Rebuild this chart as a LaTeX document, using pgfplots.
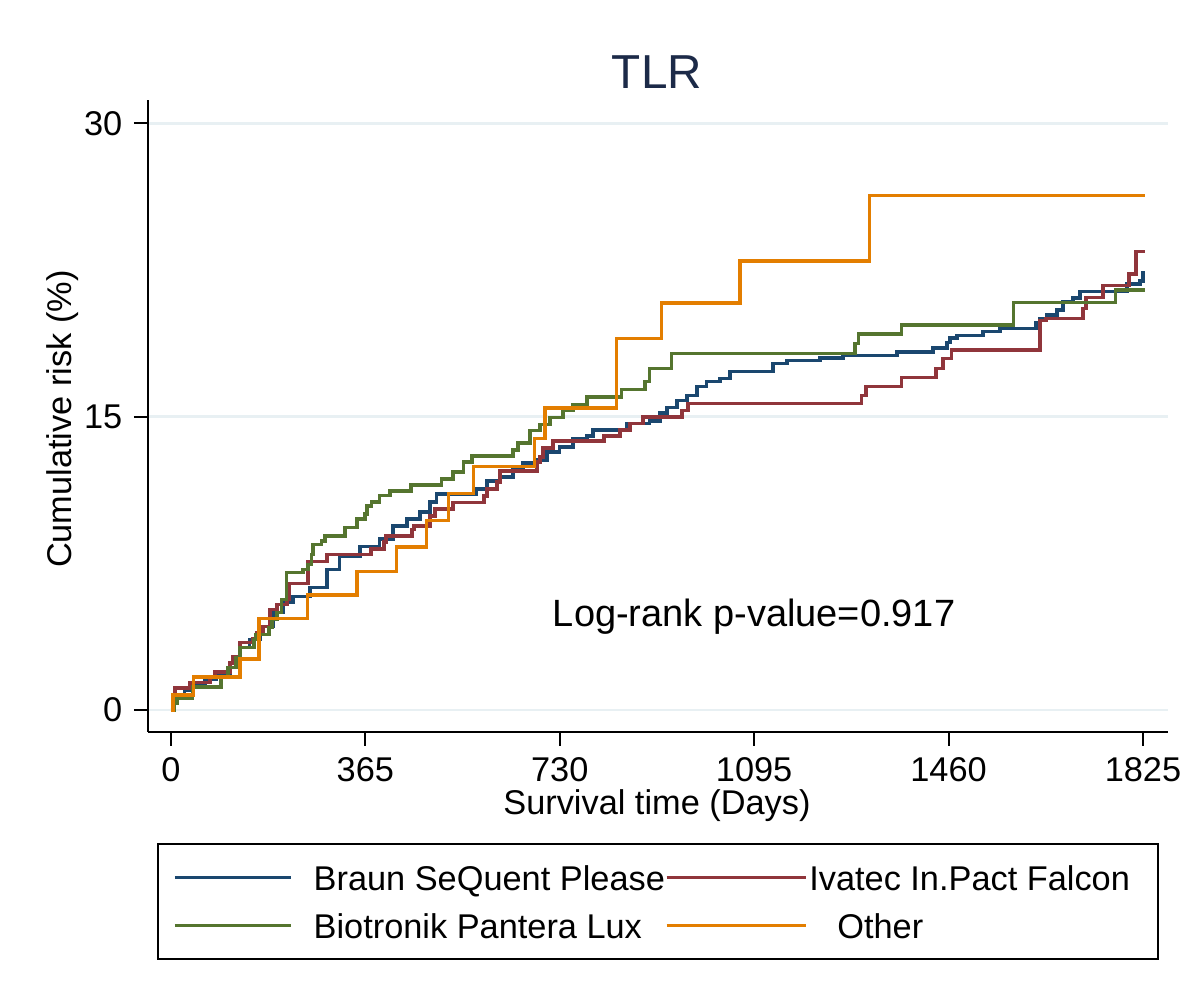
\documentclass[border=0pt]{standalone}
\usepackage{pgfplots}
\usepackage{pgfplotstable}
\pgfplotsset{compat=1.18}
\usepackage{fontspec}
\setmainfont{Liberation Sans}
\definecolor{cblue}{RGB}{26,71,111}
\definecolor{cred}{RGB}{144,53,59}
\definecolor{cgreen}{RGB}{85,117,47}
\definecolor{corange}{RGB}{227,126,0}
\definecolor{cgrid}{RGB}{232,240,243}
\definecolor{ctitle}{RGB}{28,42,72}

\pgfplotstableread{
x y
0 0
4 0.36
11 0.77
26 1.03
41 1.28
64 1.59
86 1.90
111 2.41
130 3.18
148 3.60
167 4.26
192 4.98
210 5.50
229 5.80
261 6.27
293 7.19
317 7.86
355 8.37
392 8.73
417 9.40
443 9.76
468 10.12
486 10.63
499 11.04
573 11.30
593 11.71
618 11.92
642 12.33
661 12.63
687 12.79
706 13.20
730 13.46
755 13.87
781 14.02
792 14.33
856 14.64
899 14.79
918 15.20
931 15.46
950 15.82
969 16.08
988 16.54
1006 16.80
1031 16.95
1050 17.31
1130 17.72
1157 17.87
1219 18.00
1262 18.13
1363 18.31
1431 18.52
1457 18.80
1463 19.03
1476 19.16
1525 19.35
1557 19.52
1624 19.82
1632 20.03
1645 20.20
1664 20.46
1675 20.89
1694 21.06
1707 21.40
1795 21.78
1819 21.93
1825 22.34
1829 22.34
}\braun

\pgfplotstableread{
x y
0 0
4 0.51
8 1.13
36 1.39
73 1.69
83 1.95
111 2.41
116 2.72
130 3.44
154 3.65
162 3.96
173 4.26
186 5.14
199 5.39
218 5.65
223 6.47
257 7.60
293 7.96
376 8.22
400 8.58
404 8.89
453 9.24
456 9.40
486 9.93
496 10.27
530 10.62
588 10.94
593 11.30
612 11.66
618 12.22
687 12.67
693 12.93
699 13.41
717 13.76
813 14.02
843 14.33
862 14.64
886 14.98
960 15.32
971 15.67
1297 16.08
1305 16.54
1372 17.00
1436 17.46
1450 17.98
1466 18.40
1632 19.93
1643 20.03
1712 20.54
1718 21.10
1750 21.70
1799 22.29
1812 23.46
1829 23.46
}\ivatec

\pgfplotstableread{
x y
0 0
6 0.36
11 0.62
41 1.18
94 1.69
107 2.16
122 2.67
130 3.18
156 3.60
160 3.85
184 4.21
190 4.62
199 4.98
208 5.65
217 7.02
248 7.19
257 7.45
264 7.96
267 8.47
283 8.63
289 8.90
327 9.33
349 9.76
364 10.02
368 10.44
377 10.63
392 10.96
411 11.21
451 11.50
508 11.81
530 12.16
549 12.69
565 12.98
642 13.30
652 13.66
674 14.28
693 14.59
712 14.95
736 15.31
755 15.59
781 16.01
846 16.38
890 16.80
899 17.46
940 18.23
1284 18.75
1291 19.22
1372 19.70
1582 20.85
1773 21.48
1829 21.48
}\biotronik

\pgfplotstableread{
x y
0 0
4 0.77
42 1.68
130 2.60
165 4.67
256 5.87
349 7.07
424 8.34
480 9.68
521 11.07
568 12.46
683 13.89
702 15.44
837 19.00
921 20.82
1068 22.96
1312 26.32
1829 26.32
}\other

\begin{document}
\begin{tikzpicture}
\begin{axis}[
  at={(0,0)}, anchor=south west,
  scale only axis, width=306pt, height=189.6pt,
  xmin=-43, xmax=1872, ymin=-1.13, ymax=31.2,
  axis x line*=bottom, axis y line*=left,
  axis line style={-, line width=0.6pt, black},
  xtick={0,365,730,1095,1460,1825}, ytick={0,15,30},
  tick align=outside, major tick length=4.2pt,
  tick style={line width=0.6pt, black},
  ymajorgrids, grid style={cgrid, line width=0.8pt},
  ticklabel style={font=\fontsize{10.3}{12}\selectfont},
  /pgf/number format/assume math mode=true,
  /pgf/number format/1000 sep={},
  xlabel={Survival time (Days)}, ylabel={Cumulative risk (\%)},
  label style={font=\fontsize{10.3}{12}\selectfont},
  xlabel style={at={(axis description cs:0.499,-0.117)}, anchor=center},
  ylabel style={at={(axis description cs:-0.084,0.495)}, anchor=center},
  title={TLR},
  every axis title shift=0pt,
  title style={at={(axis description cs:0.499,1.044)}, anchor=center, font=\fontsize{14.3}{16}\selectfont, text=ctitle},
  legend columns=2,
  legend cell align=left,
  legend style={at={(axis description cs:0.0088,-0.1756)}, anchor=north west,
    draw=black, line width=0.6pt, font=\fontsize{10.3}{12}\selectfont,
    inner xsep=4.6pt, inner ysep=2.85pt,
    nodes={inner xsep=0pt, inner ysep=2.2pt, text height=9pt, text depth=1pt}},
]
\addplot[const plot, cblue, line width=1.05pt,
  legend image code/.code={\draw[cblue, line width=1pt] (0pt,0pt) -- (34.8pt,0pt); \path (41.1pt,0pt);}] table[x=x,y=y] {\braun};
\addlegendentry{Braun SeQuent Please}
\addplot[const plot, cred, line width=1.05pt,
  legend image code/.code={\draw[cred, line width=1pt] (0pt,0pt) -- (41.7pt,0pt); \path (42.3pt,0pt);}] table[x=x,y=y] {\ivatec};
\addlegendentry{Ivatec In.Pact Falcon\kern3.8pt}
\addplot[const plot, cgreen, line width=1.05pt,
  legend image code/.code={\draw[cgreen, line width=1pt] (0pt,0pt) -- (34.8pt,0pt); \path (41.1pt,0pt);}] table[x=x,y=y] {\biotronik};
\addlegendentry{Biotronik Pantera Lux}
\addplot[const plot, corange, line width=1.05pt,
  legend image code/.code={\draw[corange, line width=1pt] (0pt,0pt) -- (41.7pt,0pt); \path (42.3pt,0pt);}] table[x=x,y=y] {\other};
\addlegendentry{\hspace{8.4pt}Other}
\node[font=\fontsize{11.4}{13}\selectfont, anchor=center] at (axis cs:1095,4.75) {Log-rank p-value=0.917};
\end{axis}
\pgfresetboundingbox
\path[use as bounding box] (-44.4pt,-80.1pt) rectangle (315.6pt,219.6pt);
\end{tikzpicture}
\end{document}
